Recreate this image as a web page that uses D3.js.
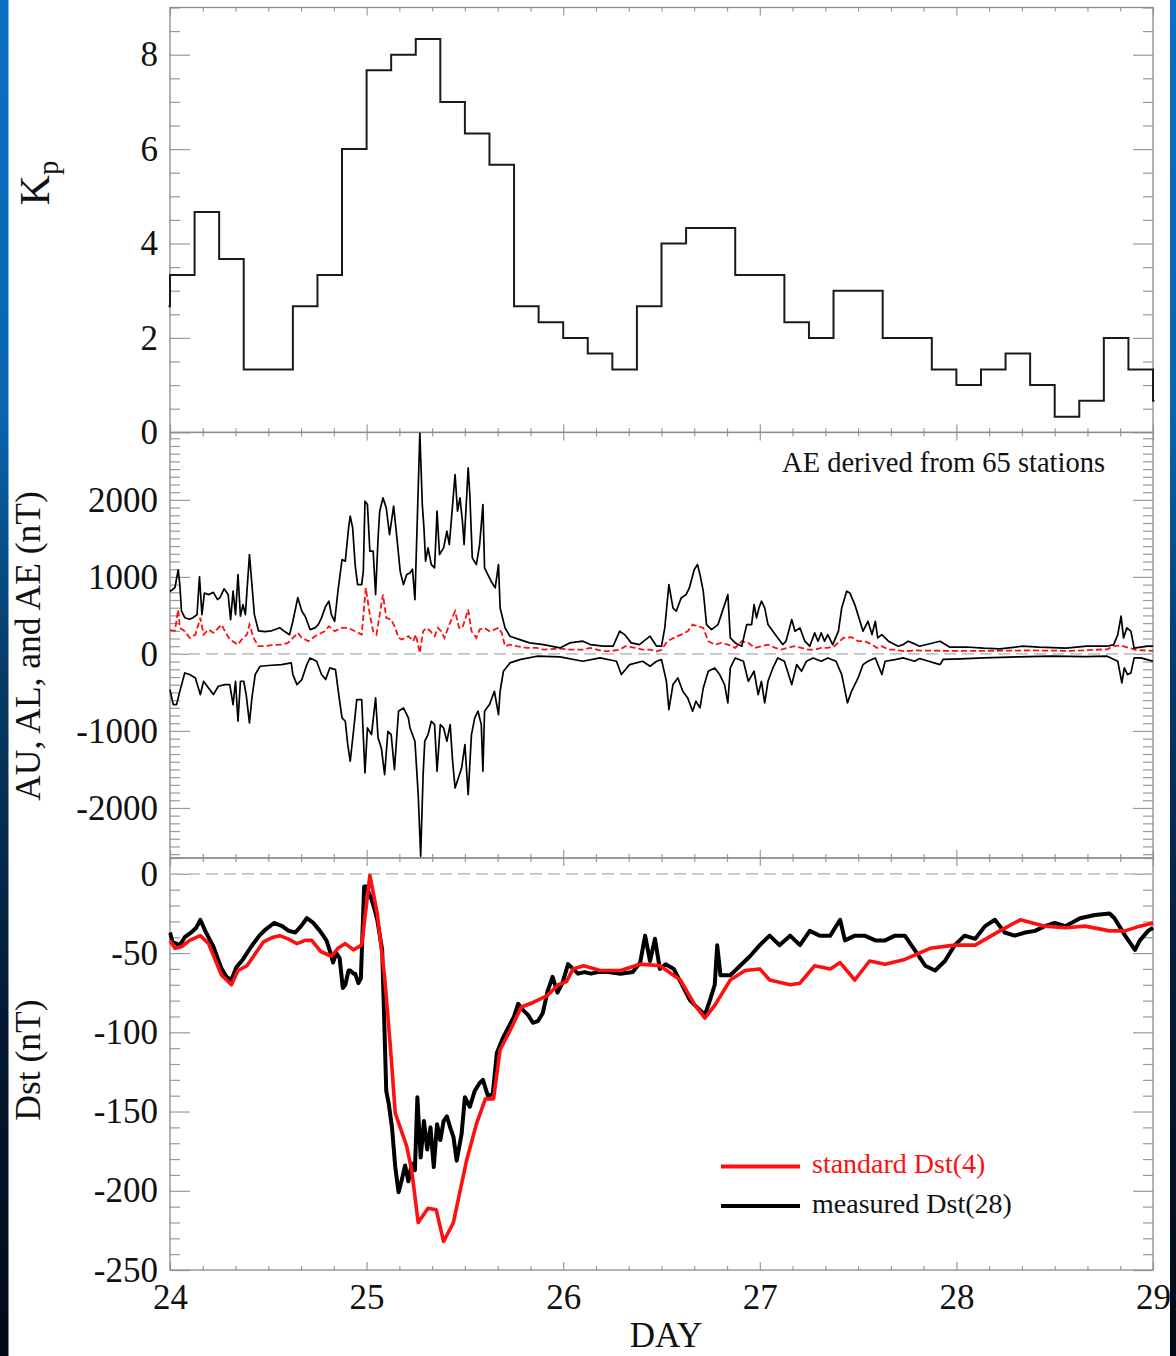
<!DOCTYPE html>
<html><head><meta charset="utf-8">
<script src="https://cdn.jsdelivr.net/npm/d3@7"></script>
<style>html,body{margin:0;padding:0;background:#fff;} svg{display:block;}</style>
</head><body><svg id="c" width="1176" height="1356"></svg>
<script>
// ---------------- DATA ----------------
const dayTicks = [24, 25, 26, 27, 28, 29];
const kpTickLabels = [0, 2, 4, 6, 8];
const aeTickLabels = [-2000, -1000, 0, 1000, 2000];
const dstTickLabels = [-250, -200, -150, -100, -50, 0];

// Kp, 3-hour values; first entry is the interval before day 24, last is the one after day 29
const kpStartHour = -3;
const kpValues = [2.67, 3.33, 4.67, 3.67, 1.33, 1.33, 2.67, 3.33, 6.0, 7.67, 8.0, 8.33, 7.0, 6.33, 5.67,
  2.67, 2.33, 2.0, 1.67, 1.33, 2.67, 4.0, 4.33, 4.33, 3.33, 3.33, 2.33, 2.0, 3.0, 3.0, 2.0, 2.0,
  1.33, 1.0, 1.33, 1.67, 1.0, 0.33, 0.67, 2.0, 1.33, 0.67];

// hours after day 24 00 UT, and values in nT
const aeHours = [0,0.6,1.0,1.2,1.4,1.8,2.4,2.8,3.3,3.6,3.9,4.2,4.7,5.3,5.8,6.1,6.6,7.1,7.4,7.7,8.0,8.3,8.6,8.9,9.2,9.7,10.0,10.3,10.8,11.6,12.4,13.4,14.0,14.6,15.0,15.6,16.1,16.5,17.1,17.7,18.1,18.5,19.0,19.4,19.7,20.1,20.5,21.0,21.4,21.8,22.0,22.3,22.6,22.9,23.4,23.6,23.8,24.1,24.4,24.8,25.1,25.4,25.6,26.0,26.4,26.8,27.3,27.7,28.1,28.5,28.9,29.3,29.6,29.9,30.5,30.8,31.0,31.2,31.5,31.9,32.3,32.6,32.9,33.4,33.8,34.1,34.5,34.8,35.1,35.4,35.7,35.9,36.4,36.6,36.9,37.4,37.8,38.2,38.4,38.8,39.2,39.7,40.1,40.3,40.9,41.5,42.7,43.9,45.6,47.6,48.8,50.4,51.3,52.9,54.1,54.9,55.5,56.3,57.3,58.6,59.4,60.0,60.4,60.9,61.4,61.8,62.4,63.0,63.4,64.0,64.4,64.7,65.1,65.5,66.1,66.9,67.3,67.7,68.1,68.4,69.0,69.8,70.4,71.0,71.3,71.6,71.9,72.2,72.6,73.0,73.6,74.2,74.8,75.2,75.9,76.3,76.9,77.5,78.1,78.7,79.1,79.5,79.9,80.3,80.9,81.6,82.0,82.6,83.0,83.6,84.1,84.6,85.2,85.7,86.1,86.4,86.9,87.7,88.9,89.5,90.1,90.9,91.5,94.0,95.2,97.2,99.3,101.3,104.1,106.1,109.4,111.9,114.4,115.2,115.7,116.1,116.4,116.8,117.3,117.7,118.5,119.3,120];
const aeValues = [810,860,1090,900,560,470,450,470,510,1000,510,790,770,800,705,730,845,770,445,815,510,1030,490,640,510,1290,900,510,300,290,300,340,290,250,424,730,554,490,316,338,381,468,619,684,510,424,814,1225,1204,1636,1788,1636,1160,900,900,1074,1983,1939,1334,1334,770,1506,1853,2026,1896,1550,1918,1506,1074,900,1030,1050,1100,705,2870,1939,1636,1204,1377,1160,1117,1853,1290,1377,1593,1420,1939,2329,1853,2026,1723,1420,2416,2069,1247,1160,1420,1939,1117,1030,944,857,1160,597,338,230,186,143,121,78,143,165,121,100,100,295,251,143,121,230,100,100,338,900,597,554,727,770,857,1095,1160,1030,814,381,316,381,510,640,770,208,143,100,381,381,640,468,597,684,597,381,295,208,121,165,446,295,338,165,100,273,165,273,165,251,121,295,597,814,790,640,468,295,424,251,424,208,251,165,100,120,165,130,100,165,87,90,74,65,100,87,74,100,100,121,251,490,208,338,295,74,87,100,100];

const alHours = [0,0.4,0.8,1.2,1.8,2.4,3.1,3.7,4.1,4.7,5.3,5.9,6.7,7.3,7.7,8.0,8.3,8.6,9.0,9.3,9.7,10.0,10.4,11.0,12.4,13.6,14.8,15.0,15.5,16.1,16.7,17.1,17.9,18.5,19.0,19.5,20.2,20.6,21.0,21.4,21.7,22.0,22.4,22.8,23.4,23.8,24.1,24.6,25.1,25.4,25.8,26.2,26.6,27.0,27.4,27.9,28.5,29.1,29.3,29.9,30.3,30.6,30.9,31.1,31.5,31.9,32.3,32.6,33.0,33.4,33.8,34.2,34.5,34.8,35.2,35.6,36.0,36.4,36.8,37.2,37.6,38.0,38.2,38.4,39.0,39.6,40.1,40.3,40.7,41.5,42.7,44.8,47.6,50.4,52.5,54.5,55.1,56.1,57.7,58.6,59.4,60.0,60.6,60.9,61.4,62.0,62.6,63.2,63.8,64.2,64.7,65.1,65.7,66.5,67.1,67.7,68.1,68.4,69.0,70.0,70.6,71.3,71.8,72.2,72.6,73.0,73.6,74.2,75.0,75.9,76.5,77.1,77.7,78.5,79.5,80.3,81.3,82.0,82.7,83.2,84.0,84.6,85.2,86.1,86.9,87.3,88.5,89.5,90.9,91.5,94.0,94.4,96.5,99.3,103.5,107.6,111.7,114.4,115.7,116.2,116.5,116.9,117.3,117.7,118.5,119.3,120];
const alValues = [-463,-658,-658,-485,-247,-268,-312,-528,-355,-442,-528,-420,-398,-398,-658,-355,-874,-355,-355,-528,-896,-571,-268,-160,-147,-139,-117,-268,-398,-333,-139,-52,-95,-268,-333,-182,-204,-528,-831,-874,-1178,-1394,-1004,-593,-593,-1545,-961,-1048,-571,-1091,-1221,-1567,-1004,-1048,-1502,-744,-701,-831,-961,-1134,-1827,-2628,-1567,-1134,-1048,-874,-918,-1524,-918,-961,-1134,-918,-1394,-1740,-1610,-1481,-1178,-1827,-1048,-831,-744,-918,-1524,-744,-658,-485,-788,-485,-225,-117,-74,-30,-39,-95,-52,-95,-268,-139,-95,-160,-95,-74,-355,-723,-398,-312,-485,-571,-744,-614,-701,-442,-225,-182,-268,-398,-636,-182,-52,-95,-355,-225,-528,-355,-636,-355,-182,-52,-95,-398,-139,-225,-95,-52,-95,-52,-95,-268,-636,-485,-312,-139,-95,-52,-268,-95,-74,-52,-95,-60,-139,-70,-65,-52,-39,-30,-34,-30,-95,-377,-182,-268,-247,-52,-52,-74,-95];

const auHours = [0,0.6,1.0,1.2,1.8,2.4,3.1,3.7,4.1,4.7,5.3,6.3,6.7,7.3,8.3,8.9,9.4,9.7,10.2,10.8,11.6,12.4,13.6,14.4,15.6,16.1,16.9,17.7,18.9,19.4,20.1,20.9,21.7,22.6,23.4,23.9,24.4,24.8,25.2,25.6,26.0,26.4,27.0,27.5,27.9,28.3,29.1,29.7,30.0,30.5,30.9,31.3,31.8,32.3,32.7,33.1,33.5,34.1,34.8,35.3,35.7,36.4,36.8,37.4,37.8,38.4,39.0,39.6,40.1,40.5,40.9,41.5,42.3,43.6,44.8,45.6,47.6,48.8,50.4,51.3,52.9,53.7,54.9,55.6,56.8,57.7,58.6,59.4,60.0,60.7,61.5,62.4,63.2,63.8,64.4,65.1,65.7,66.5,67.3,68.1,69.0,69.8,70.6,71.4,72.2,73.0,73.9,74.6,75.4,76.3,77.1,77.9,78.7,79.5,80.3,81.1,82.2,83.2,84.0,84.8,85.7,86.3,86.9,87.7,88.5,89.5,91,95,100,105,110,114.4,115.2,116.1,117.0,118,120];
const auValues = [310,300,575,338,295,208,251,468,251,316,273,381,295,186,121,208,251,381,208,100,100,113,121,143,273,208,165,230,295,360,295,338,338,295,251,857,510,295,251,510,770,468,446,338,208,186,230,165,251,13,295,338,295,230,338,295,208,381,554,338,338,575,295,208,316,338,295,316,338,273,100,121,100,78,78,56,70,56,56,78,35,35,56,100,78,56,56,35,50,165,208,251,295,381,360,338,165,121,143,121,78,165,143,78,100,121,78,56,78,100,78,56,56,78,78,100,208,217,165,165,121,78,100,56,56,35,45,40,40,45,40,60,100,110,80,50,40];

const dstStdHours = [0,0.6,1.4,2.4,3.7,4.7,6.3,7.5,8.3,9.4,11.4,12.6,13.4,14.4,15.5,16.5,17.3,18.4,19.7,20.5,21.4,22.4,23.4,24.4,25.3,26.2,26.9,27.5,28.9,29.5,30.3,31.5,32.5,33.4,34.6,36.2,37.4,38.5,39.5,40.3,41.5,42.9,44.4,46.0,47.4,48.4,49.2,50.5,52.5,55,57.4,59.8,62.3,64.1,65.3,66.5,68.4,70.2,72.0,73.2,75.7,76.9,78.7,80.6,81.8,83.6,85.4,87.3,89.7,92.8,95.8,98.3,101.3,103.8,106.8,109.3,111.7,114.7,116.6,118.4,120];
const dstStdValues = [-42,-47,-46,-42,-39,-44,-64,-70,-61,-58,-43,-40,-39,-41,-44,-42,-42,-49,-52,-47,-44,-48,-45,-1,-25,-65,-109,-151,-172,-187,-220,-211,-212,-232,-220,-181,-158,-142,-142,-111,-99,-84,-81,-77,-70,-68,-60,-58,-61,-61,-57,-58,-67,-83,-91,-83,-67,-61,-60,-67,-70,-69,-58,-60,-56,-67,-55,-57,-54,-47,-45,-45,-36,-29,-33,-34,-33,-36,-36,-33,-31];

const dstMeasHours = [0,0.3,1.2,1.8,2.6,3.2,3.7,4.3,5.3,6.3,6.9,7.5,8.1,8.9,9.9,10.9,11.7,12.7,13.7,14.5,15.3,16.0,16.7,17.5,18.3,19.1,19.6,19.9,20.3,20.7,21.1,21.4,21.8,22.0,22.4,22.6,23.0,23.3,23.7,24.0,24.2,24.6,25.0,25.3,25.9,26.4,26.7,27.1,27.5,27.9,28.3,28.7,29.1,29.5,29.9,30.2,30.6,31.0,31.4,31.8,32.2,32.6,33.0,33.4,33.8,34.2,34.6,35.0,35.6,36.0,36.6,37.2,37.8,38.2,38.8,39.4,39.9,40.6,41.2,42.0,42.5,43.1,43.7,44.3,44.9,45.5,46.1,46.7,47.3,47.9,48.6,49.2,49.8,50.6,51.4,52.2,53.5,55,56.5,57.4,58.0,58.6,59.2,59.8,60.5,61.5,62.9,63.5,64.1,64.7,65.3,65.9,66.5,66.8,67.2,68.4,69.6,70.8,72.0,73.2,74.4,75.7,76.9,78.1,79.3,80.6,81.8,82.4,83.6,84.8,86.1,87.3,88.5,89.7,90.9,92.2,93.4,94.6,95.8,97.0,98.3,99.5,100.7,101.9,103.1,104.4,105.6,106.8,108.0,109.3,111.1,112.9,114.7,115.3,116.6,117.8,118.4,119.4,120];
const dstMeasValues = [-37,-43,-45,-40,-37,-34,-29,-36,-46,-60,-65,-67,-59,-54,-46,-39,-35,-31,-33,-36,-37,-33,-28,-31,-36,-42,-50,-56,-50,-53,-72,-70,-61,-61,-63,-63,-69,-66,-8,-8,-11,-16,-23,-29,-48,-137,-145,-160,-185,-201,-193,-184,-194,-183,-187,-141,-179,-156,-174,-160,-185,-158,-168,-156,-153,-160,-166,-181,-164,-141,-147,-137,-132,-130,-140,-139,-113,-104,-98,-90,-82,-86,-89,-94,-93,-88,-74,-65,-75,-69,-57,-60,-63,-62,-63,-62,-62,-63,-62,-56,-39,-55,-41,-60,-57,-60,-74,-80,-83,-86,-89,-80,-70,-45,-64,-64,-58,-52,-45,-39,-45,-39,-45,-36,-39,-39,-29,-42,-39,-39,-42,-42,-39,-39,-48,-58,-61,-55,-45,-39,-41,-33,-29,-37,-39,-37,-36,-33,-31,-33,-28,-26,-25,-28,-39,-48,-42,-36,-34];

// ---------------- LAYOUT ----------------
const W = 1176, H = 1356;
const X0 = 170, X1 = 1153;
const FONT = '"Liberation Serif", "Times New Roman", Times, serif';
const svg = d3.select('#c');
const defs = svg.append('defs');
const grad = defs.append('linearGradient').attr('id', 'bg').attr('x1', 0).attr('y1', 0).attr('x2', 0).attr('y2', 1);
[[0, '#0b6fc3'], [0.3, '#0866b2'], [0.5, '#073a66'], [0.75, '#041a33'], [1, '#020a16']].forEach(([o, c]) =>
  grad.append('stop').attr('offset', o).attr('stop-color', c));
svg.append('rect').attr('width', W).attr('height', H).attr('fill', 'url(#bg)');
svg.append('rect').attr('x', 8.5).attr('y', 0).attr('width', 1170 - 8.5).attr('height', H).attr('fill', '#fff');

const x = d3.scaleLinear().domain([0, 120]).range([X0, X1]);

const panels = [
  {id: 'kp', top: 7.5, bottom: 432.3, domain: [0, 9], major: 2, minor: 0.5, labels: kpTickLabels},
  {id: 'ae', top: 432.5, bottom: 858, domain: [-2650, 2875], major: 1000, minor: 100, labels: aeTickLabels},
  {id: 'dst', top: 858, bottom: 1270, domain: [-250, 10], major: 50, minor: 10, labels: dstTickLabels}
];

const TICK = '#9a9a9a';
panels.forEach(p => {
  p.y = d3.scaleLinear().domain(p.domain).range([p.bottom, p.top]);
  defs.append('clipPath').attr('id', 'clip-' + p.id).append('rect')
    .attr('x', X0 - 1.5).attr('y', p.top).attr('width', X1 - X0 + 3).attr('height', p.bottom - p.top);
});

function styleAxis(g) {
  g.select('.domain').remove();
  g.selectAll('line').attr('stroke', TICK).attr('stroke-width', 1.2);
  g.selectAll('text').attr('font-family', FONT).attr('font-size', 35).attr('fill', '#111');
}

const majorX = d3.range(0, 121, 24);
const minorX = d3.range(0, 121, 4).filter(h => h % 24 !== 0);

panels.forEach((p, i) => {
  const g = svg.append('g');
  const [lo, hi] = p.domain;
  const majY = d3.range(Math.ceil(lo / p.major) * p.major, hi + 1e-9, p.major);
  const minY = d3.range(Math.ceil(lo / p.minor) * p.minor, hi + 1e-9, p.minor)
    .filter(v => Math.abs(v / p.major - Math.round(v / p.major)) > 1e-6);
  g.append('g').attr('transform', `translate(${X0},0)`)
    .call(d3.axisLeft(p.y).tickValues(minY).tickSizeInner(-10).tickSizeOuter(0).tickFormat('')).call(styleAxis);
  g.append('g').attr('transform', `translate(${X0},0)`)
    .call(d3.axisLeft(p.y).tickValues(p.labels).tickSizeInner(-20).tickSizeOuter(0).tickPadding(12)
      .tickFormat(d => String(d))).call(styleAxis);
  g.append('g').attr('transform', `translate(${X1},0)`)
    .call(d3.axisRight(p.y).tickValues(minY).tickSizeInner(-10).tickSizeOuter(0).tickFormat('')).call(styleAxis);
  g.append('g').attr('transform', `translate(${X1},0)`)
    .call(d3.axisRight(p.y).tickValues(majY).tickSizeInner(-20).tickSizeOuter(0).tickFormat('')).call(styleAxis);
  g.append('g').attr('transform', `translate(0,${p.top})`)
    .call(d3.axisTop(x).tickValues(minorX).tickSizeInner(-4).tickSizeOuter(0).tickFormat('')).call(styleAxis);
  g.append('g').attr('transform', `translate(0,${p.top})`)
    .call(d3.axisTop(x).tickValues(majorX).tickSizeInner(-8).tickSizeOuter(0).tickFormat('')).call(styleAxis);
  g.append('g').attr('transform', `translate(0,${p.bottom})`)
    .call(d3.axisBottom(x).tickValues(minorX).tickSizeInner(-4).tickSizeOuter(0).tickFormat('')).call(styleAxis);
  const bottomAxis = d3.axisBottom(x).tickValues(majorX).tickSizeInner(-8).tickSizeOuter(0);
  if (i === panels.length - 1) bottomAxis.tickPadding(14).tickFormat((d, k) => String(dayTicks[k]));
  else bottomAxis.tickFormat('');
  g.append('g').attr('transform', `translate(0,${p.bottom})`).call(bottomAxis).call(styleAxis);
  g.append('rect').attr('x', X0).attr('y', p.top).attr('width', X1 - X0).attr('height', p.bottom - p.top)
    .attr('fill', 'none').attr('stroke', '#8c8c8c').attr('stroke-width', 1.3);
});

const [pKp, pAe, pDst] = panels;

// ---- Kp panel ----
const kpPts = kpValues.map((v, i) => [kpStartHour + 3 * i, v]);
kpPts.push([kpStartHour + 3 * kpValues.length, kpValues[kpValues.length - 1]]);
svg.append('path').attr('clip-path', 'url(#clip-kp)')
  .attr('d', d3.line().x(d => x(d[0])).y(d => pKp.y(d[1])).curve(d3.curveStepAfter)(kpPts))
  .attr('fill', 'none').attr('stroke', '#1a1a1a').attr('stroke-width', 2);

// ---- AE panel ----
svg.append('line').attr('x1', X0).attr('x2', X1).attr('y1', pAe.y(0)).attr('y2', pAe.y(0))
  .attr('stroke', '#c4c4c4').attr('stroke-width', 1.6).attr('stroke-dasharray', '12,6');
const lineAe = d3.line().x(d => x(d[0])).y(d => pAe.y(d[1]));
const zip = (a, b) => a.map((h, i) => [h, b[i]]);
const gAe = svg.append('g').attr('clip-path', 'url(#clip-ae)');
gAe.append('path').attr('d', lineAe(zip(auHours, auValues))).attr('fill', 'none')
  .attr('stroke', '#ff1010').attr('stroke-width', 1.8).attr('stroke-dasharray', '6,3');
gAe.append('path').attr('d', lineAe(zip(aeHours, aeValues))).attr('fill', 'none')
  .attr('stroke', '#000').attr('stroke-width', 1.7).attr('stroke-linejoin', 'round');
gAe.append('path').attr('d', lineAe(zip(alHours, alValues))).attr('fill', 'none')
  .attr('stroke', '#000').attr('stroke-width', 1.7).attr('stroke-linejoin', 'round');
svg.append('text').attr('x', 1105).attr('y', 471.5).attr('text-anchor', 'end')
  .attr('font-family', FONT).attr('font-size', 28.5).attr('fill', '#111').text('AE derived from 65 stations');

// ---- Dst panel ----
svg.append('line').attr('x1', X0).attr('x2', X1).attr('y1', pDst.y(0)).attr('y2', pDst.y(0))
  .attr('stroke', '#c4c4c4').attr('stroke-width', 1.6).attr('stroke-dasharray', '12,6');
const lineDst = d3.line().x(d => x(d[0])).y(d => pDst.y(d[1]));
const gDst = svg.append('g').attr('clip-path', 'url(#clip-dst)');
gDst.append('path').attr('d', lineDst(zip(dstMeasHours, dstMeasValues))).attr('fill', 'none')
  .attr('stroke', '#000').attr('stroke-width', 4).attr('stroke-linejoin', 'round');
gDst.append('path').attr('d', lineDst(zip(dstStdHours, dstStdValues))).attr('fill', 'none')
  .attr('stroke', '#ff1010').attr('stroke-width', 3.6).attr('stroke-linejoin', 'round');

// legend
const legend = [
  {label: 'standard Dst(4)', color: '#ff1010', y: 1166.5},
  {label: 'measured Dst(28)', color: '#000', y: 1206}
];
legend.forEach(l => {
  svg.append('line').attr('x1', 721).attr('x2', 800).attr('y1', l.y).attr('y2', l.y)
    .attr('stroke', l.color).attr('stroke-width', 4);
  svg.append('text').attr('x', 812).attr('y', l.y + 6.5).attr('font-family', FONT).attr('font-size', 28)
    .attr('fill', l.color === '#000' ? '#111' : l.color).text(l.label);
});

// axis titles
const kpT = svg.append('text').attr('transform', 'translate(49,183) rotate(-90)').attr('text-anchor', 'middle')
  .attr('font-family', FONT).attr('font-size', 42).attr('fill', '#111');
kpT.append('tspan').text('K');
kpT.append('tspan').attr('font-size', 29).attr('dy', 9).text('p');
svg.append('text').attr('transform', 'translate(40,646) rotate(-90)').attr('text-anchor', 'middle')
  .attr('font-family', FONT).attr('font-size', 35.5).attr('fill', '#111').text('AU, AL, and AE (nT)');
svg.append('text').attr('transform', 'translate(40,1060) rotate(-90)').attr('text-anchor', 'middle')
  .attr('font-family', FONT).attr('font-size', 35.5).attr('fill', '#111').text('Dst (nT)');
svg.append('text').attr('x', 666).attr('y', 1347).attr('text-anchor', 'middle')
  .attr('font-family', FONT).attr('font-size', 35).attr('fill', '#111').text('DAY');
</script></body></html>
